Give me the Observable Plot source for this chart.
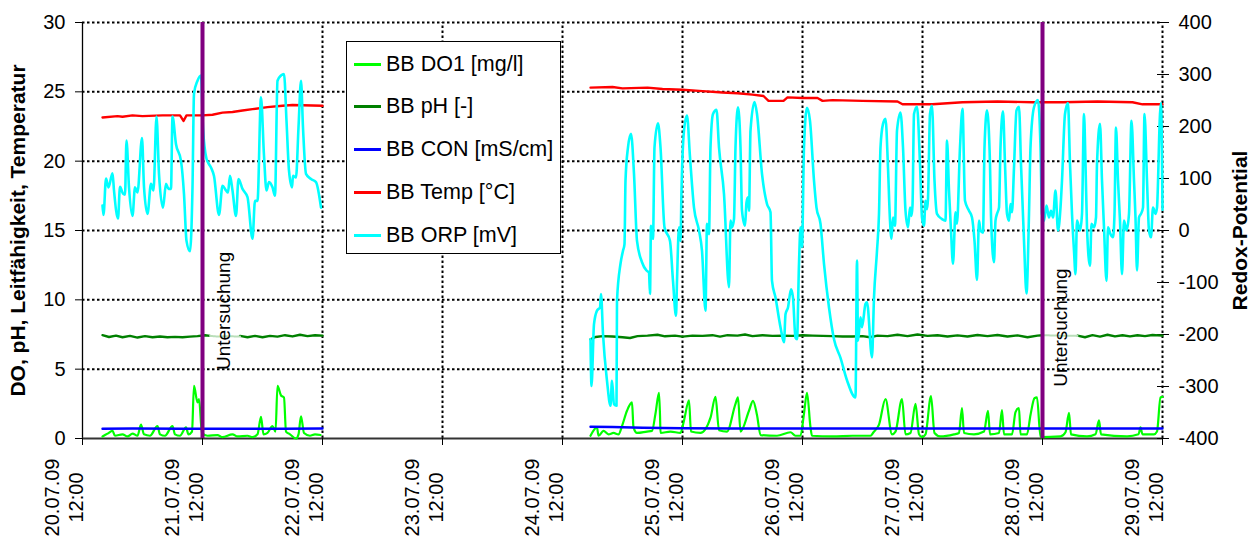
<!DOCTYPE html>
<html>
<head>
<meta charset="utf-8">
<script src="https://cdn.jsdelivr.net/npm/d3@7"></script>
<script src="https://cdn.jsdelivr.net/npm/@observablehq/plot@0.6"></script>
<style>
  body { margin: 0; background: white; font-family: "Liberation Sans", Arial, sans-serif; }
  #wrap { position: relative; width: 1256px; height: 541px; }
  #legend { position: absolute; left: 346px; top: 41px; width: 215px; height: 213px; border: 1px solid black; background: white; box-sizing: border-box; }
  .item { position: absolute; left: 7px; height: 26px; display: flex; align-items: center; font-size: 21.5px; color: black; white-space: nowrap; }
  .item .sw { width: 27px; height: 3px; margin-right: 5px; }
</style>
</head>
<body>
<div id="wrap"><div id="legend"></div></div>
<script>
// ---- data (hours since 20.07.09 12:00) ----
const seriesNames = ["BB DO1 [mg/l]", "BB pH [-]", "BB CON [mS/cm]", "BB Temp [°C]", "BB ORP [mV]"];
const seriesColors = ["#00ff00", "#008000", "#0000ff", "#ff0000", "#00ffff"];
const xTickHours = [0, 24, 48, 72, 96, 120, 144, 168, 192, 216];
const yTicks = [0, 5, 10, 15, 20, 25, 30];
const orpTicks = [-400, -300, -200, -100, 0, 100, 200, 300, 400];
const eventHours = [24, 192];
const eventLabel = "Untersuchung";

const do1 = [[4,0.15],[5,0.35],[6,0.55],[6.5,0.2],[8,0.3],[9,0.15],[10,0.35],[11,0.2],[11.7,1.0],[12.3,0.3],[13.5,0.2],[15,0.9],[15.5,0.3],[16.5,0.2],[18,0.9],[18.5,0.3],[19.5,0.2],[20.7,0.8],[21.2,0.3],[21.9,0.5],[22.3,3.8],[23,2.6],[23.3,2.85],[23.9,0.4],[25,0.2],[27,0.25],[28,0.1],[30,0.3],[31,0.15],[33,0.2],[34,0.1],[35,0.3],[35.7,1.57],[36.2,0.3],[37,0.4],[38,0.9],[38.6,0.5],[39,3.8],[39.7,3.1],[40.3,2.95],[40.7,0.5],[41.5,0.3],[42.7,0.0],[43.2,0.3],[43.7,1.6],[44.3,0.4],[45.5,0.2],[46.5,0.3],[47.6,0.25]];
const do2 = [[101.6,0.2],[102.9,0.8],[103.2,0.2],[104.2,0.55],[105.2,0.3],[106.2,0.4],[107.2,0.3],[107.9,0.9],[108.9,2.0],[109.9,2.6],[110.2,0.8],[110.9,0.4],[112.9,0.5],[113.9,0.55],[114.6,1.8],[115.3,3.3],[115.5,1.7],[115.6,0.4],[117.6,0.5],[119.6,0.4],[120.3,1.3],[121.3,2.75],[121.7,0.5],[123.6,0.4],[125.6,1.5],[126.6,3.0],[127.3,0.6],[128.9,0.5],[130.6,2.5],[131.1,2.96],[131.6,0.5],[133.3,2.0],[134.1,2.72],[134.9,1.7],[135.6,0.25],[138.9,0.2],[141.6,0.45],[142.6,0.2],[143.6,0.2],[144.3,1.8],[144.9,3.3],[145.6,0.8],[145.9,0.2],[150,0.15],[154,0.2],[157.6,0.2],[158.2,0.45],[159.3,1.0],[160.6,2.84],[161.9,0.3],[162.6,0.5],[163.9,2.84],[164.6,0.3],[165.6,0.4],[166.6,2.5],[167.3,0.3],[167.9,0.1],[168.6,0.3],[169.7,3.05],[170.4,0.4],[171.6,0.15],[174.3,0.3],[175.3,0.4],[175.9,2.2],[176.3,0.4],[178.3,0.3],[180.3,0.5],[181.1,2.0],[181.5,0.3],[183.3,0.4],[183.9,2.05],[184.3,0.3],[185.9,0.3],[186.6,1.9],[187.3,2.2],[187.6,0.3],[188.9,0.3],[189.6,1.7],[190.4,2.9],[190.9,2.96],[191.6,0.1],[195.6,0.15],[196.6,0.45],[197.3,1.85],[197.7,0.3],[200.9,0.15],[202.6,0.3],[203.3,1.3],[203.7,0.3],[208.9,0.15],[211.2,0.3],[211.6,0.8],[212,0.3],[214.3,0.3],[214.9,0.5],[215.6,2.96],[216,3.0]];

const ph1a = [[4,7.45],[5.3,7.32],[6.7,7.42],[8,7.3],[9.5,7.4],[11,7.28],[12.5,7.38],[14,7.3],[15.5,7.36],[17,7.3],[18.5,7.33],[20,7.3],[21.5,7.35],[23,7.38],[24.5,7.45],[25.5,7.4]];
const ph1faint = [[25.5,7.4],[27,7.35],[29,7.38],[31.5,7.35]];
const ph1b = [[31.5,7.4],[33,7.3],[34.5,7.4],[36,7.3],[37.5,7.4],[39,7.35],[40.5,7.45],[42,7.36],[43.5,7.48],[45,7.38],[46.5,7.45],[48,7.42]];
const ph2a = [[101.6,7.15],[102.6,7.32],[104,7.38],[106,7.36],[108,7.3],[109.5,7.25],[111,7.38],[113,7.42],[115,7.48],[116.5,7.37],[118.5,7.42],[120,7.35],[122,7.42],[124,7.4],[126,7.45],[127.5,7.35],[129,7.45],[131,7.42],[132.5,7.5],[134,7.38],[136,7.45],[138,7.4],[140,7.42],[142,7.4],[144,7.45],[146,7.42],[148,7.4],[150,7.38],[152,7.36],[154,7.36],[156,7.38],[157.5,7.3],[159,7.42],[161,7.38],[163,7.48],[165,7.38],[167,7.5],[169,7.4],[171,7.45],[173,7.36],[175,7.44],[177,7.36],[179,7.46],[181,7.38],[183,7.46],[185,7.36],[187,7.44],[189,7.3],[191,7.42],[192,7.45]];
const ph2faint = [[192,7.45],[195,7.42],[199,7.4]];
const ph2b = [[199,7.42],[200.5,7.3],[202,7.45],[203.5,7.35],[205,7.48],[206.5,7.36],[208,7.45],[209.5,7.36],[211,7.45],[212.5,7.38],[214,7.46],[216,7.42]];

const con1 = [[4,0.7],[10,0.72],[20,0.7],[30,0.7],[40,0.7],[48,0.72]];
const con2 = [[101.6,0.85],[106,0.83],[112,0.78],[120,0.74],[130,0.72],[216,0.72]];

const temp1 = [[4,23.15],[7,23.25],[8,23.2],[10,23.3],[12,23.25],[16,23.3],[19.5,23.3],[20.2,22.9],[20.8,23.3],[24,23.3],[26,23.35],[28,23.5],[30,23.55],[32,23.65],[34,23.75],[37,23.9],[40,24.0],[42,24.05],[48,24.0]];
const temp2 = [[101.6,25.3],[106,25.35],[108,25.25],[113,25.3],[116,25.2],[120,25.15],[124,25.05],[128,24.95],[131,24.9],[134,24.8],[136.2,24.7],[137.2,24.35],[140.2,24.35],[141,24.6],[144,24.55],[147,24.55],[148,24.35],[150,24.4],[156,24.35],[163,24.3],[164,24.1],[170,24.1],[176,24.25],[183,24.3],[190,24.25],[196,24.25],[203,24.3],[210,24.25],[212,24.1],[216,24.1]];

const orp1 = [[4.0,48],[4.2,30],[4.7,100],[5.2,83],[6.0,110],[6.3,77],[7.1,23],[7.5,84],[8.1,71],[8.5,69],[8.8,173],[9.3,83],[10.0,28],[10.5,83],[11.0,73],[11.9,178],[12.3,84],[13.0,32],[13.7,90],[14.2,77],[14.8,219],[15.3,109],[16.1,44],[16.7,90],[17.2,80],[17.7,80],[18.0,219],[18.7,166],[19.7,134],[20.3,70],[20.8,-20],[21.5,-40],[22.0,83],[22.3,263],[23.0,288],[23.7,298],[24.1,198],[24.8,138],[25.7,121],[26.3,105],[27.3,30],[28.0,86],[28.7,77],[29.1,73],[29.5,105],[30.0,77],[30.7,28],[31.2,99],[32.0,80],[33.0,64],[34.0,-16],[34.5,57],[35.0,57],[35.7,256],[36.3,144],[36.8,77],[37.3,93],[38.0,83],[38.5,67],[39.0,288],[39.7,298],[40.3,301],[40.8,211],[41.3,115],[41.9,83],[42.1,105],[42.7,102],[43.2,198],[43.7,288],[44.1,198],[44.7,109],[45.7,99],[46.7,93],[47.7,44]];
const orp2 = [[101.6,-209],[101.8,-299],[102.3,-180],[102.9,-154],[103.5,-148],[103.7,-122],[104.1,-199],[104.9,-289],[105.6,-337],[105.9,-289],[106.3,-334],[106.8,-337],[106.9,-135],[107.6,-64],[108.1,-39],[108.4,-26],[108.6,96],[109.1,160],[109.7,186],[110.3,109],[110.9,-20],[111.9,-61],[112.8,-77],[113.3,-81],[113.5,-122],[113.7,9],[114.1,-16],[114.4,160],[115.1,206],[115.6,160],[116.4,6],[117.5,-20],[118.1,-97],[118.7,-164],[118.9,-97],[119.3,6],[119.6,-20],[119.8,77],[120.3,192],[120.9,221],[121.5,141],[122.3,44],[123.3,0],[123.9,-39],[124.6,-154],[124.9,13],[125.3,-7],[125.6,160],[126.1,224],[126.8,232],[127.3,160],[128.3,70],[129.3,-109],[129.6,19],[129.9,6],[130.3,22],[130.6,160],[131.1,237],[131.6,160],[131.9,38],[132.5,9],[132.8,54],[133.1,64],[133.3,38],[133.6,192],[134.4,247],[134.9,224],[135.9,109],[136.9,51],[137.6,35],[137.9,-97],[138.6,-129],[139.6,-186],[140.3,-215],[140.6,-161],[141.1,-148],[141.7,-113],[142.1,-129],[142.6,-206],[142.9,-209],[143.3,-64],[143.6,6],[143.9,-32],[144.3,160],[144.9,236],[145.5,211],[146.3,96],[146.8,44],[147.6,13],[148.3,-64],[149.3,-148],[150.3,-209],[151.6,-245],[152.9,-288],[154.6,-321],[154.9,-58],[155.1,-212],[155.6,-167],[155.9,-186],[156.6,-141],[156.9,-138],[157.9,-244],[158.3,-129],[158.9,-39],[159.3,32],[159.6,160],[160.1,205],[160.6,215],[161.1,121],[161.5,19],[161.8,-16],[162.1,25],[162.5,9],[162.9,192],[163.6,227],[164.1,160],[164.6,38],[165.1,6],[165.5,44],[165.8,28],[166.0,48],[166.3,224],[166.9,238],[167.5,128],[167.9,25],[168.3,9],[168.6,57],[168.9,41],[169.1,61],[169.5,224],[169.9,240],[170.4,96],[170.9,32],[171.9,22],[172.6,19],[172.9,173],[173.3,77],[173.7,0],[174.1,-64],[174.6,35],[174.9,13],[175.5,160],[176.0,234],[176.5,57],[177.3,38],[177.9,25],[178.4,-20],[178.9,-95],[179.3,19],[179.6,0],[180.1,-4],[180.4,160],[180.9,231],[181.5,128],[181.7,28],[182.3,-61],[182.6,19],[182.9,32],[183.3,44],[183.6,160],[184.1,229],[184.5,128],[184.9,32],[185.3,19],[185.6,51],[185.9,35],[186.3,121],[186.8,231],[187.3,238],[187.7,128],[188.3,-20],[188.8,-121],[189.3,32],[189.6,160],[190.3,237],[191.1,251],[191.6,160],[191.9,32],[192.3,19],[192.8,48],[193.3,25],[193.7,38],[194.1,25],[194.6,77],[195.1,0],[195.6,44],[195.9,96],[196.5,224],[197.1,245],[197.5,128],[197.9,32],[198.3,-39],[198.6,-84],[198.9,19],[199.5,0],[199.9,32],[200.3,224],[200.6,128],[200.9,6],[201.5,-68],[201.8,13],[202.3,6],[202.7,25],[202.9,128],[203.5,205],[203.9,96],[204.3,6],[204.8,-97],[205.1,6],[205.6,-7],[206.1,-13],[206.4,32],[206.7,198],[207.1,96],[207.5,19],[207.9,-84],[208.3,19],[208.8,0],[209.3,32],[209.8,211],[210.3,96],[210.6,25],[210.9,-77],[211.3,25],[211.7,32],[212.1,44],[212.4,224],[212.9,96],[213.3,0],[213.7,-13],[214.1,44],[214.6,32],[214.9,44],[215.5,224],[215.7,245],[216.0,40]];

// ---- helpers ----
const t0 = Date.UTC(2009, 6, 20, 12);
const toDate = h => new Date(t0 + h * 3600e3);
const orpToY = v => (v + 400) * 30 / 800;      // secondary axis mapped onto primary
const rows = arr => arr.map(([h, v]) => ({date: toDate(h), v}));
const rowsOrp = arr => arr.map(([h, v]) => ({date: toDate(h), v: orpToY(v)}));
const xTicks = xTickHours.map(toDate);
const fmt = d3.utcFormat("%d.%m.%y\n%H:%M");
const font = "'Liberation Sans', Arial, sans-serif";
const grid = {stroke: "black", strokeDasharray: "2.5,2.5", strokeWidth: 2};

const line = (arr, color, w = 2, extra = {}) => Plot.line(rows(arr), {x: "date", y: "v", stroke: color, strokeWidth: w, ...extra});

const chart = Plot.plot({
  width: 1256, height: 541,
  marginLeft: 82, marginRight: 94, marginTop: 22, marginBottom: 103,
  style: {fontFamily: font, fontSize: "20px", background: "white", color: "black", overflow: "visible"},
  x: {type: "utc", domain: [toDate(0), toDate(216)]},
  y: {domain: [0, 30]},
  marks: [
    Plot.ruleY(yTicks.filter(d => d > 0), grid),
    Plot.ruleX(xTicks.slice(1), {...grid, y1: 0, y2: 30}),
    Plot.ruleX([xTicks[0]], {stroke: "black", strokeWidth: 1.3}),
    Plot.ruleY([0], {stroke: "#333", strokeWidth: 1.8}),
    Plot.axisY(yTicks, {anchor: "left", tickSize: 7, tickPadding: 10, fontSize: 20, label: null}),
    Plot.axisY(orpTicks.map(orpToY), {anchor: "right", tickSize: 12, dx: -6, fill: "none", label: null}),
    Plot.axisY(orpTicks.map(orpToY), {anchor: "right", tickSize: 0, stroke: "none", tickPadding: 16, fontSize: 20, textAnchor: "start", tickFormat: d => String(Math.round(d * 800 / 30 - 400)), label: null}),
    Plot.axisX(xTicks, {anchor: "bottom", tickSize: 7, fill: "none", label: null}),
    Plot.text(xTicks, {x: d => d, frameAnchor: "bottom", dy: 59, rotate: -90, text: d => fmt(d), fontSize: 20, lineHeight: 1.2, textAnchor: "middle"}),
    Plot.text(["DO, pH, Leitfähigkeit, Temperatur"], {frameAnchor: "left", dx: -64, rotate: -90, fontWeight: "bold", fontSize: 21, textAnchor: "middle"}),
    Plot.text(["Redox-Potential"], {frameAnchor: "right", dx: 78, rotate: -90, fontWeight: "bold", fontSize: 21, textAnchor: "middle"}),
    // series
    line(do1, seriesColors[0], 2.2, {curve: "monotone-x"}), line(do2, seriesColors[0], 2.2, {curve: "monotone-x"}),
    line(ph1a, seriesColors[1], 2.4), line(ph1b, seriesColors[1], 2.4), line(ph2a, seriesColors[1], 2.4), line(ph2b, seriesColors[1], 2.4),
    line(ph1faint, "#b9deb9", 2, {strokeDasharray: "2,1"}), line(ph2faint, "#b9deb9", 2, {strokeDasharray: "2,1"}),
    line(con1, seriesColors[2], 2.4), line(con2, seriesColors[2], 2.4),
    line(temp1, seriesColors[3], 2.4), line(temp2, seriesColors[3], 2.4),
    Plot.line(rowsOrp(orp1), {x: "date", y: "v", stroke: seriesColors[4], strokeWidth: 2.6, curve: "monotone-x"}),
    Plot.line(rowsOrp(orp2), {x: "date", y: "v", stroke: seriesColors[4], strokeWidth: 2.6, curve: "monotone-x"}),
    // events
    Plot.ruleX(eventHours.map(toDate), {stroke: "#800080", strokeWidth: 4}),
    Plot.text([toDate(eventHours[0])], {x: d => d, y: 9.2, dx: 21, rotate: -90, text: () => eventLabel, fontSize: 19, textAnchor: "middle"}),
    Plot.text([toDate(eventHours[1])], {x: d => d, y: 8.0, dx: 18, rotate: -90, text: () => eventLabel, fontSize: 19, textAnchor: "middle"})
  ]
});
const wrap = document.getElementById("wrap");
wrap.insertBefore(chart, wrap.firstChild);

// legend
const legend = document.getElementById("legend");
seriesNames.forEach((name, i) => {
  const it = document.createElement("div");
  it.className = "item";
  it.style.top = (9 + i * 42.8) + "px";
  it.innerHTML = `<span class="sw" style="background:${seriesColors[i]}"></span><span>${name}</span>`;
  legend.appendChild(it);
});
</script>
</body>
</html>
